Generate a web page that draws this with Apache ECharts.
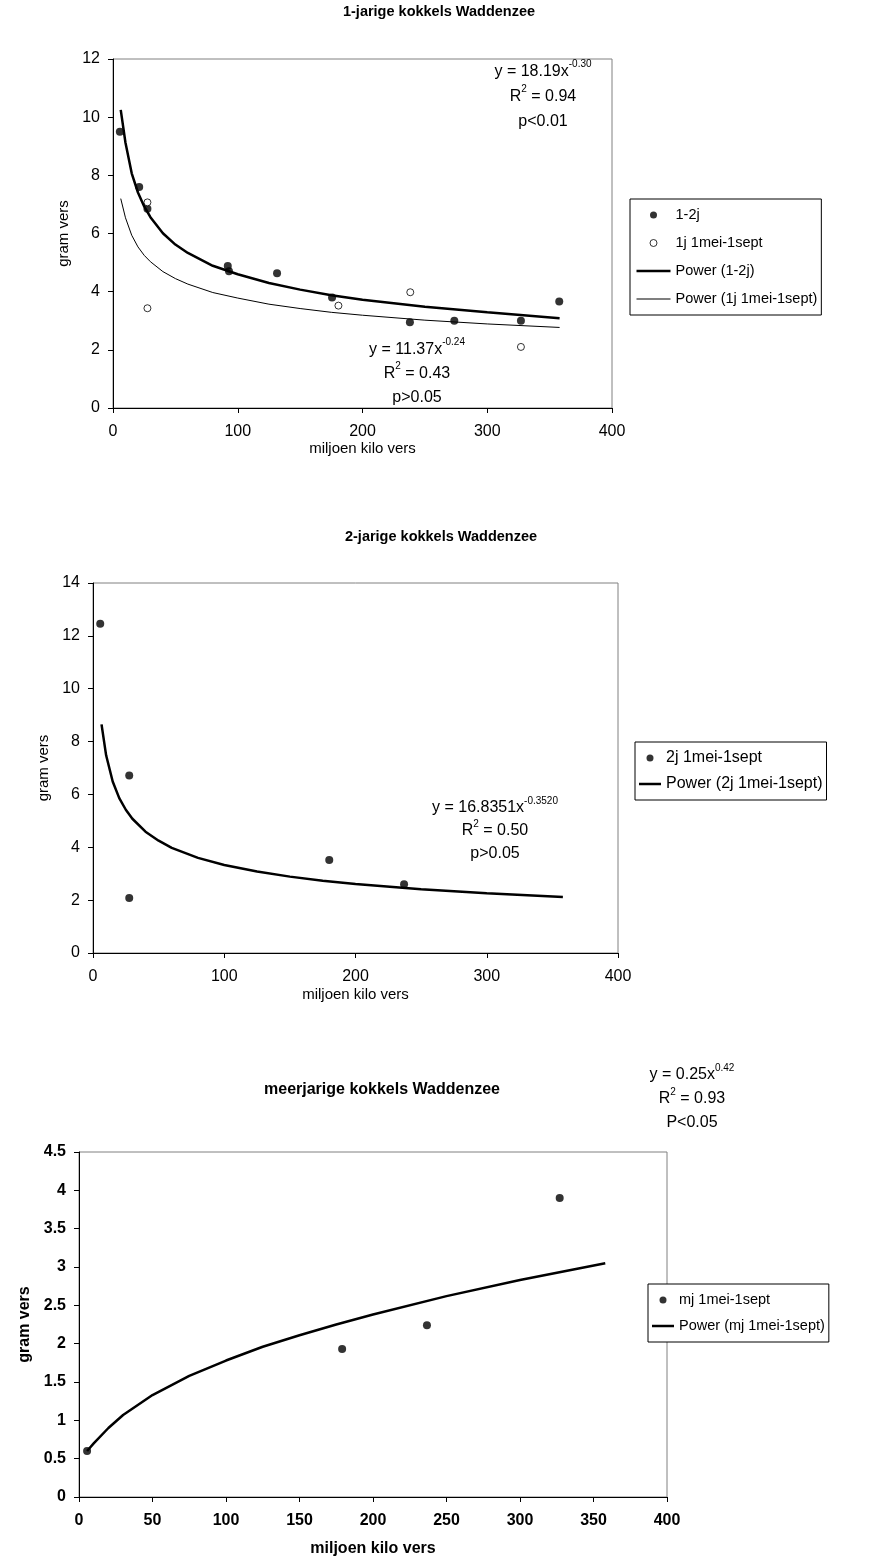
<!DOCTYPE html>
<html>
<head>
<meta charset="utf-8">
<title>kokkels Waddenzee</title>
<script src="https://cdn.jsdelivr.net/npm/echarts@6/dist/echarts.min.js"></script>
<style>
  html, body { margin: 0; padding: 0; background: #fff; }
  #chart { width: 877px; height: 1566px; }
</style>
</head>
<body>
<div id="chart"></div>
<script>
// ---- 1-jarige kokkels ----
const x1j2j = [5.5, 21, 27.6, 92, 93, 131.5, 175.6, 238, 273.6, 327, 357.7]
const y1j2j = [9.5, 7.6, 6.85, 4.88, 4.7, 4.63, 3.8, 2.95, 3.0, 3.0, 3.66]
const x1j = [27.6, 27.6, 180.7, 238.3, 327]
const y1j = [7.07, 3.43, 3.52, 3.98, 2.1]
const trendX1 = [6.2, 10, 15, 20, 25, 30, 40, 50, 60, 80, 100, 125, 150, 175, 200, 250, 300, 358]
const trend1j2jY = [10.25, 9.12, 8.07, 7.41, 6.93, 6.56, 6.01, 5.62, 5.33, 4.89, 4.6, 4.3, 4.07, 3.88, 3.72, 3.48, 3.29, 3.09]
const trend1jY = [7.2, 6.54, 5.94, 5.54, 5.25, 5.03, 4.69, 4.45, 4.26, 3.97, 3.78, 3.57, 3.42, 3.29, 3.19, 3.02, 2.89, 2.77]

// ---- 2-jarige kokkels ----
const x2j = [5.5, 27.6, 27.6, 180, 237]
const y2j = [12.46, 6.72, 2.08, 3.52, 2.6]
const trendX2 = [6.5, 10, 15, 20, 25, 30, 40, 50, 60, 80, 100, 125, 150, 175, 200, 250, 300, 358]
const trend2jY = [8.65, 7.48, 6.49, 5.86, 5.42, 5.08, 4.59, 4.25, 3.98, 3.6, 3.33, 3.08, 2.89, 2.73, 2.61, 2.41, 2.26, 2.12]

// ---- meerjarige kokkels ----
const xmj = [5.5, 179, 236.7, 327]
const ymj = [0.6, 1.93, 2.24, 3.9]
const trendX3 = [5.5, 10, 20, 30, 40, 50, 75, 100, 125, 150, 175, 200, 250, 300, 358]
const trendmjY = [0.6, 0.7, 0.9, 1.07, 1.2, 1.33, 1.58, 1.78, 1.96, 2.11, 2.25, 2.38, 2.62, 2.83, 3.05]

// axis ranges (max, interval) per chart
const xRange = [[400, 100], [400, 100], [400, 50]]
const yRange = [[12, 2], [14, 2], [4.5, 0.5]]

const FONT = '"Liberation Sans", Arial, Helvetica, sans-serif'
const zip = (xs, ys) => xs.map((x, i) => [x, ys[i]])

const chart = echarts.init(document.getElementById('chart'))

const axis = (o) => ({
  type: 'value',
  gridIndex: o.grid,
  min: 0,
  max: o.max,
  interval: o.interval,
  name: o.name,
  nameLocation: 'middle',
  nameGap: o.nameGap,
  nameTextStyle: {
    fontSize: o.nameSize || 15,
    fontFamily: FONT,
    color: '#000',
    fontWeight: o.bold ? 'bold' : 'normal',
  },
  axisLine: { show: true, onZero: false, lineStyle: { color: '#000', width: 1 } },
  axisTick: { show: true, inside: false, length: 5, lineStyle: { color: '#000', width: 1 } },
  axisLabel: {
    fontSize: 16,
    fontFamily: FONT,
    color: '#000',
    margin: o.margin,
    fontWeight: o.bold ? 'bold' : 'normal',
  },
  splitLine: { show: false },
})

const gridBase = { show: true, borderColor: '#808080', borderWidth: 1, containLabel: false, outerBoundsMode: 'none' }

const dot = (w) => `path://M0,0M${w},14M${w / 2 + 3.5},7A3.5,3.5,0,1,1,${w / 2 - 3.5},7A3.5,3.5,0,1,1,${w / 2 + 3.5},7Z`
const bar = (w, h) => `path://M0,0M${w},14M0,${7 - h / 2}L${w},${7 - h / 2}L${w},${7 + h / 2}L0,${7 + h / 2}Z`

const legendBase = {
  orient: 'vertical',
  selectedMode: false,
  borderColor: '#000',
  borderWidth: 1,
  backgroundColor: '#fff',
  itemHeight: 14,
  itemStyle: { borderWidth: 0 },
  textStyle: { fontSize: 14.5, fontFamily: FONT, color: '#000', lineHeight: 16 },
}

const rich = {
  n: { fontSize: 16, fontFamily: FONT, fill: '#000' },
  s: { fontSize: 10, fontFamily: FONT, fill: '#000', lineHeight: 16, verticalAlign: 'top' },
}
const eqText = (x, y, lh, text) => ({
  type: 'text',
  x: x,
  y: y,
  style: {
    text: text,
    rich: {
      n: Object.assign({}, rich.n, { lineHeight: lh }),
      s: rich.s,
    },
    align: 'center',
    verticalAlign: 'top',
  },
})
const titleText = (x, y, size, text) => ({
  type: 'text',
  x: x,
  y: y,
  style: {
    text: text,
    fontSize: size,
    fontWeight: 'bold',
    fontFamily: FONT,
    fill: '#000',
    align: 'center',
    verticalAlign: 'middle',
  },
})

const option = {
  animation: false,
  backgroundColor: '#fff',
  grid: [
    Object.assign({ left: 113, top: 59, width: 499, height: 349 }, gridBase),
    Object.assign({ left: 93, top: 583, width: 525, height: 370 }, gridBase),
    Object.assign({ left: 79, top: 1152, width: 588, height: 345 }, gridBase),
  ],
  xAxis: [
    axis({ grid: 0, max: xRange[0][0], interval: xRange[0][1], name: 'miljoen kilo vers', nameGap: 31, margin: 16 }),
    axis({ grid: 1, max: xRange[1][0], interval: xRange[1][1], name: 'miljoen kilo vers', nameGap: 34, margin: 16 }),
    axis({ grid: 2, max: xRange[2][0], interval: xRange[2][1], name: 'miljoen kilo vers', nameGap: 44, margin: 16, bold: true, nameSize: 16 }),
  ],
  yAxis: [
    axis({ grid: 0, max: yRange[0][0], interval: yRange[0][1], name: 'gram vers', nameGap: 42, margin: 13 }),
    axis({ grid: 1, max: yRange[1][0], interval: yRange[1][1], name: 'gram vers', nameGap: 36, margin: 13 }),
    axis({ grid: 2, max: yRange[2][0], interval: yRange[2][1], name: 'gram vers', nameGap: 44, margin: 13, bold: true, nameSize: 16 }),
  ],
  legend: [
    Object.assign({}, legendBase, {
      left: 630,
      top: 199,
      padding: [8, 4, 8, 6],
      itemGap: 12,
      itemWidth: 34,
      data: [
        { name: '1-2j', icon: dot(34) },
        { name: '1j 1mei-1sept', icon: dot(34), itemStyle: { color: '#fff', borderColor: '#000', borderWidth: 1 } },
        { name: 'Power (1-2j)', icon: bar(34, 2.5) },
        { name: 'Power (1j 1mei-1sept)', icon: bar(34, 1) },
      ],
    }),
    Object.assign({}, legendBase, {
      left: 635,
      top: 742,
      padding: [8, 4, 8, 4],
      itemGap: 10,
      itemWidth: 22,
      textStyle: { fontSize: 16, fontFamily: FONT, color: '#000', lineHeight: 16 },
      data: [
        { name: '2j 1mei-1sept', icon: dot(22) },
        { name: 'Power (2j 1mei-1sept)', icon: bar(22, 2.5) },
      ],
    }),
    Object.assign({}, legendBase, {
      left: 648,
      top: 1284,
      padding: [8, 4, 8, 4],
      itemGap: 10,
      itemWidth: 22,
      data: [
        { name: 'mj 1mei-1sept', icon: dot(22) },
        { name: 'Power (mj 1mei-1sept)', icon: bar(22, 2.5) },
      ],
    }),
  ],
  graphic: [
    titleText(439, 12, 14.5, '1-jarige kokkels Waddenzee'),
    titleText(441, 537, 14.5, '2-jarige kokkels Waddenzee'),
    titleText(382, 1090, 16, 'meerjarige kokkels Waddenzee'),
    eqText(543, 59.5, 25, '{n|y = 18.19x}{s|-0.30}\n{n|R}{s|2}{n| = 0.94}\n{n|p<0.01}'),
    eqText(417, 337.5, 24, '{n|y = 11.37x}{s|-0.24}\n{n|R}{s|2}{n| = 0.43}\n{n|p>0.05}'),
    eqText(495, 796.5, 23, '{n|y = 16.8351x}{s|-0.3520}\n{n|R}{s|2}{n| = 0.50}\n{n|p>0.05}'),
    eqText(692, 1063, 24, '{n|y = 0.25x}{s|0.42}\n{n|R}{s|2}{n| = 0.93}\n{n|P<0.05}'),
  ],
  series: [
    {
      name: 'Power (1-2j)',
      type: 'line',
      xAxisIndex: 0,
      yAxisIndex: 0,
      symbol: 'none',
      data: zip(trendX1, trend1j2jY),
      lineStyle: { color: '#000', width: 2.5 },
      itemStyle: { color: '#000' },
    },
    {
      name: 'Power (1j 1mei-1sept)',
      type: 'line',
      xAxisIndex: 0,
      yAxisIndex: 0,
      symbol: 'none',
      data: zip(trendX1, trend1jY),
      lineStyle: { color: '#000', width: 1 },
      itemStyle: { color: '#000' },
    },
    {
      name: '1-2j',
      type: 'scatter',
      xAxisIndex: 0,
      yAxisIndex: 0,
      symbolSize: 8,
      data: zip(x1j2j, y1j2j),
      itemStyle: { color: '#000' },
    },
    {
      name: '1j 1mei-1sept',
      type: 'scatter',
      xAxisIndex: 0,
      yAxisIndex: 0,
      symbolSize: 7,
      data: zip(x1j, y1j),
      itemStyle: { color: '#fff', borderColor: '#000', borderWidth: 1 },
    },
    {
      name: 'Power (2j 1mei-1sept)',
      type: 'line',
      xAxisIndex: 1,
      yAxisIndex: 1,
      symbol: 'none',
      data: zip(trendX2, trend2jY),
      lineStyle: { color: '#000', width: 2.5 },
      itemStyle: { color: '#000' },
    },
    {
      name: '2j 1mei-1sept',
      type: 'scatter',
      xAxisIndex: 1,
      yAxisIndex: 1,
      symbolSize: 8,
      data: zip(x2j, y2j),
      itemStyle: { color: '#000' },
    },
    {
      name: 'Power (mj 1mei-1sept)',
      type: 'line',
      xAxisIndex: 2,
      yAxisIndex: 2,
      symbol: 'none',
      data: zip(trendX3, trendmjY),
      lineStyle: { color: '#000', width: 2.5 },
      itemStyle: { color: '#000' },
    },
    {
      name: 'mj 1mei-1sept',
      type: 'scatter',
      xAxisIndex: 2,
      yAxisIndex: 2,
      symbolSize: 8,
      data: zip(xmj, ymj),
      itemStyle: { color: '#000' },
    },
  ],
}

chart.setOption(option)
</script>
</body>
</html>
